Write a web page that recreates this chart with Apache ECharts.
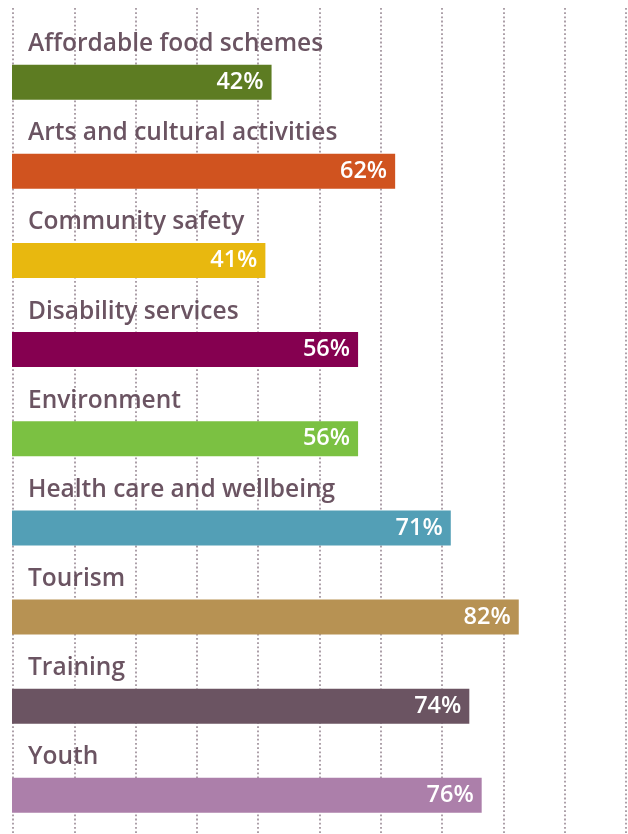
<!DOCTYPE html>
<html>
<head>
<meta charset="utf-8">
<script src="https://cdn.jsdelivr.net/npm/echarts@6/dist/echarts.min.js"></script>
<style>
html,body{margin:0;padding:0;background:#fff;}
#chart{width:628px;height:834px;}
</style>
</head>
<body>
<div id="chart"></div>
<script>
const categories = ["Affordable food schemes","Arts and cultural activities","Community safety","Disability services","Environment","Health care and wellbeing","Tourism","Training","Youth"];
const values = [42,62,41,56,56,71,82,74,76];
const colors = ["#5d7c22","#d0531f","#e8b80f","#850050","#7bc142","#539fb6","#b79253","#6b5462","#ac7faa"];

const textColor = "#6b5462";
const fontFamily = "'Open Sans', sans-serif";

const chart = echarts.init(document.getElementById('chart'), null, {renderer:'canvas'});
chart.setOption({
  animation:false,
  grid:[
    {left:13, width:613, top:8, bottom:0, outerBoundsMode:'none'},
    {left:12, width:618, top:37.6, height:802.3, outerBoundsMode:'none'}
  ],
  xAxis:[
    {gridIndex:0, type:'value', min:0, max:100, interval:10,
     axisLine:{show:false}, axisTick:{show:false}, axisLabel:{show:false},
     splitLine:{show:true, lineStyle:{color:'#a4969f', width:1.8, type:[1.8,2.4]}}},
    {gridIndex:1, type:'value', min:0, max:100,
     axisLine:{show:false}, axisTick:{show:false}, axisLabel:{show:false}, splitLine:{show:false}}
  ],
  yAxis:[
    {gridIndex:0, type:'category', data:categories, inverse:true, show:false},
    {gridIndex:1, type:'category', data:categories, inverse:true,
     axisLine:{show:false}, axisTick:{show:false}, axisLabel:{show:false}}
  ],
  series:[
    {type:'bar', xAxisIndex:1, yAxisIndex:1, barWidth:35,
     data: values.map((v,i)=>({value:v, itemStyle:{color:colors[i]}})),
     label:{show:true, position:'insideRight', distance:8, color:'#fff',
       fontFamily:fontFamily, fontWeight:600, fontSize:23.5,
       formatter:p=>p.value+'%'}},
    {type:'bar', xAxisIndex:1, yAxisIndex:1, barWidth:35, barGap:'-100%', silent:true,
     data: values, itemStyle:{color:'rgba(0,0,0,0)'},
     label:{show:true, position:[16,-20.5], align:'left', verticalAlign:'middle',
       color:textColor, fontFamily:fontFamily, fontWeight:600, fontSize:24.5,
       formatter:p=>categories[p.dataIndex]}}
  ]
});
</script>
</body>
</html>
